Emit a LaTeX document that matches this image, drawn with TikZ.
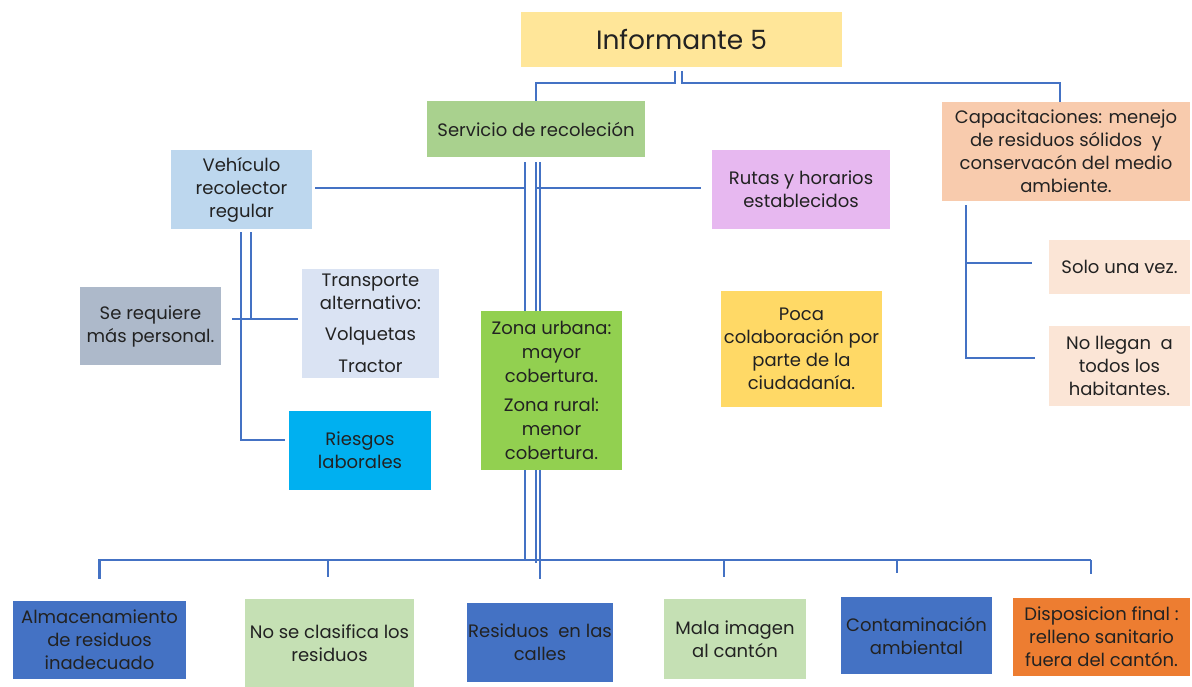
\documentclass[tikz,border=0pt]{standalone}
\usepackage{fontspec}
\setmainfont{Poppins}
\usetikzlibrary{backgrounds}
\definecolor{lnc}{HTML}{4472C4}
\definecolor{txt}{HTML}{222222}
\definecolor{cInf}{HTML}{FFE699}
\definecolor{cServ}{HTML}{A9D18E}
\definecolor{cCap}{HTML}{F8CBAD}
\definecolor{cVeh}{HTML}{BDD7EE}
\definecolor{cRut}{HTML}{E7B8F0}
\definecolor{cLight}{HTML}{FBE5D6}
\definecolor{cTrans}{HTML}{DAE3F3}
\definecolor{cSe}{HTML}{ADB9CA}
\definecolor{cZona}{HTML}{92D050}
\definecolor{cPoca}{HTML}{FFD966}
\definecolor{cRies}{HTML}{00B0F0}
\definecolor{cBlue}{HTML}{4472C4}
\definecolor{cPale}{HTML}{C5E0B4}
\definecolor{cOr}{HTML}{ED7D31}
\begin{document}
\begin{tikzpicture}[x=1pt,y=-1pt,
  box/.style={inner sep=1pt, align=center, text=txt, font=\fontsize{18}{23}\selectfont},
  conn/.style={draw=lnc, line width=2.6pt}]
\useasboundingbox (0,0) rectangle (1192,687);
% nodes
\node[box, fill=cInf, minimum width=321pt, minimum height=55pt, font=\fontsize{26.5}{30}\selectfont] (inf) at (681.5,39.5) {Informante 5};
\node[box, fill=cServ, minimum width=218pt, minimum height=56pt] (serv) at (536,129) {Servicio de recoleción};
\node[box, fill=cCap, minimum width=248pt, minimum height=99pt] (cap) at (1066,151.5) {Capacitaciones: menejo\\de residuos sólidos~ y\\conservacón del medio\\ambiente.};
\node[box, fill=cVeh, minimum width=141pt, minimum height=79pt] (veh) at (241.5,189.5) {Vehículo\\recolector\\regular};
\node[box, fill=cRut, minimum width=178pt, minimum height=79pt] (rut) at (801,189.5) {Rutas y horarios\\establecidos};
\node[box, fill=cLight, minimum width=141pt, minimum height=54pt] (solo) at (1119.5,267) {Solo una vez.};
\node[box, fill=cLight, minimum width=141pt, minimum height=80pt] (nollegan) at (1119.5,366) {No llegan~ a\\todos los\\habitantes.};
\node[box, fill=cTrans, minimum width=137pt, minimum height=109pt] (trans) at (370.5,323.5) {Transporte\\alternativo:\\[8pt]Volquetas\\[9pt]Tractor};
\node[box, fill=cSe, minimum width=141pt, minimum height=78pt] (sereq) at (150.5,326) {Se requiere\\más personal.};
\node[box, fill=cZona, minimum width=141pt, minimum height=159pt, font=\fontsize{18}{24}\selectfont] (zona) at (551.5,390.5) {Zona urbana:\\mayor\\cobertura.\\[5pt]Zona rural:\\menor\\cobertura.};
\node[box, fill=cPoca, minimum width=161pt, minimum height=116pt] (poca) at (801.5,349) {Poca\\colaboración por\\parte de la\\ciudadanía.};
\node[box, fill=cRies, minimum width=142pt, minimum height=79pt] (ries) at (360,450.5) {Riesgos\\laborales};
\node[box, fill=cBlue, minimum width=173pt, minimum height=78pt] (alm) at (99.5,640) {Almacenamiento\\de residuos\\inadecuado};
\node[box, fill=cPale, minimum width=169pt, minimum height=88pt] (nosecl) at (329.5,643) {No se clasifica los\\residuos};
\node[box, fill=cBlue, minimum width=140pt, minimum height=79pt] (resid) at (540,642.5) {Residuos~ en las\\calles};
\node[box, fill=cPale, minimum width=142pt, minimum height=80pt] (mala) at (735,639) {Mala imagen\\al cantón};
\node[box, fill=cBlue, minimum width=151pt, minimum height=77pt] (cont) at (916.5,635.5) {Contaminación\\ambiental};
\node[box, fill=cOr, minimum width=177pt, minimum height=78pt] (disp) at (1101.5,637) {Disposicion final :\\relleno sanitario\\fuera del cantón.};
\coordinate (barL) at (100,560);
\coordinate (barR) at (1091,560);
% connectors
\begin{pgfonlayer}{background}
\fill[white] (0,0) rectangle (1192,687);
\draw[conn] ([xshift=-6.5pt,yshift=-4pt]inf.south) -- ++(0,12) -| (serv.north);
\draw[conn] ([xshift=0.5pt,yshift=-4pt]inf.south) -- ++(0,12) -| ([xshift=-6pt]cap.north);
\draw[conn] ([xshift=-11pt,yshift=-5pt]serv.south) -- ++(0,398);
\draw[conn, line width=2pt] ([xshift=-0.5pt,yshift=-5pt]serv.south) -- ++(0,401);
\draw[conn, line width=2pt] ([xshift=3.5pt,yshift=-5pt]serv.south) -- ++(0,401);
\draw[conn] ([xshift=3pt,yshift=1.5pt]veh.east) -- ++(210,0);
\draw[conn] ([xshift=-11pt,yshift=1.5pt]rut.west) -- ++(-164,0);
\draw[conn] ([xshift=-0.5pt,yshift=-3pt]veh.south) |- ([xshift=-4pt,yshift=10.5pt]ries.west);
\draw[conn] ([xshift=9.5pt,yshift=-3pt]veh.south) -- ++(0,87);
\draw[conn] ([xshift=11pt,yshift=7pt]sereq.east) -- ([xshift=-4pt,yshift=4.5pt]trans.west);
\draw[conn] ([xshift=-100pt,yshift=-4pt]cap.south) |- ([xshift=-17pt,yshift=4pt]solo.west);
\draw[conn] ([xshift=-100pt,yshift=-4pt]cap.south) |- ([xshift=-14pt,yshift=8pt]nollegan.west);
\draw[conn] (barL) -- (barR);
\draw[conn] ([yshift=22pt]alm.north) |- (barR);
\draw[conn] ([xshift=-1.5pt,yshift=22pt]nosecl.north) |- (barR);
\draw[conn] ([yshift=24pt]resid.north) |- (barR);
\draw[conn] ([xshift=-11pt,yshift=22pt]mala.north) |- (barR);
\draw[conn] ([xshift=-19.5pt,yshift=24pt]cont.north) |- (barR);
\draw[conn] ([xshift=-10.5pt,yshift=24pt]disp.north) |- (barR);
\end{pgfonlayer}
\end{tikzpicture}
\end{document}
